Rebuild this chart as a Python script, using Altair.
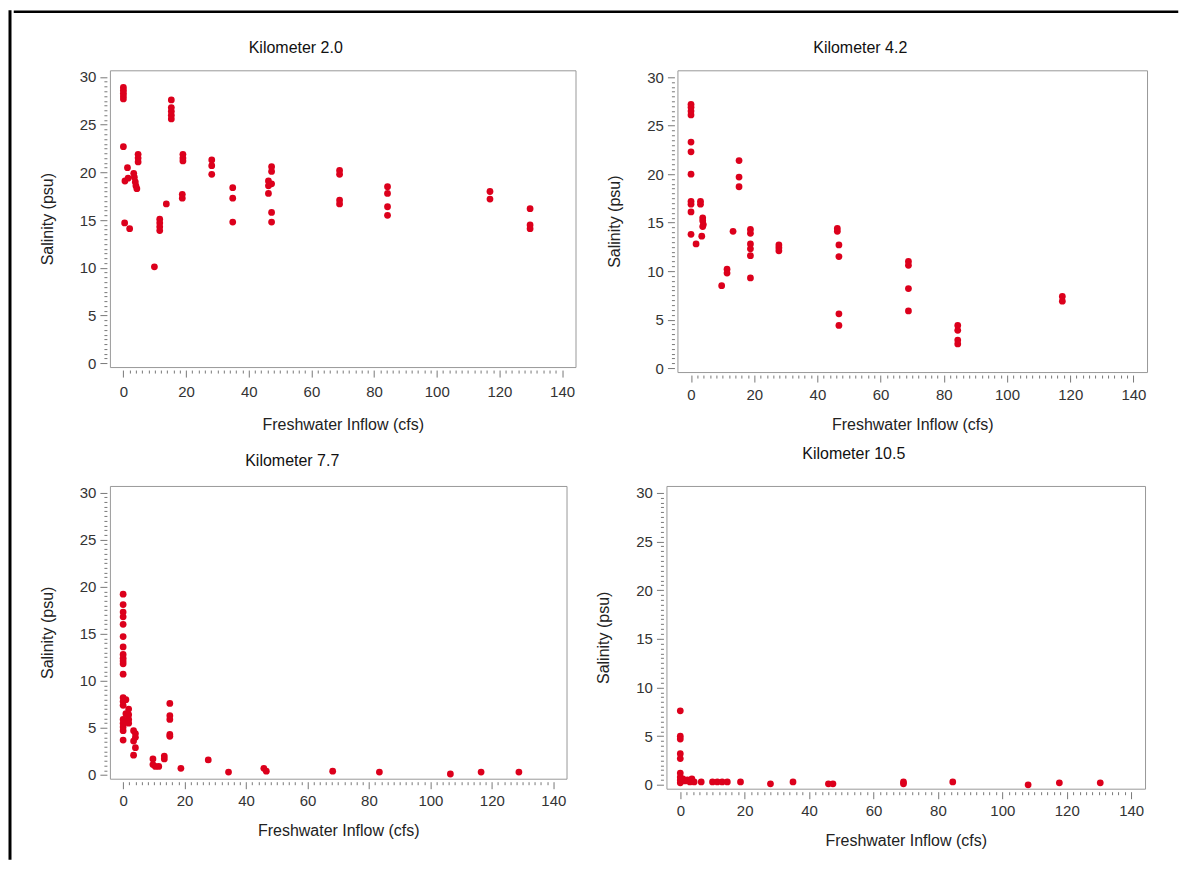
import altair as alt
import pandas as pd

PANELS = ["Kilometer 2.0", "Kilometer 4.2", "Kilometer 7.7", "Kilometer 10.5"]

km20_flow = [0, 0, 0, 0, 0, 0, 0.4, 0.5, 1.3, 1.5, 2.0, 3.3, 3.5, 3.8, 4.0, 4.3,
             4.7, 4.7, 4.7, 9.9, 11.6, 11.6, 11.6, 11.6, 13.7, 15.3, 15.3, 15.3,
             15.3, 15.3, 19.0, 19.0, 19.0, 18.8, 18.8, 28.2, 28.2, 28.2, 34.9,
             34.9, 34.9, 46.3, 46.3, 46.3, 47.3, 47.3, 47.3, 47.3, 47.3, 69, 69,
             69, 69, 84.3, 84.3, 84.3, 84.3, 117, 117, 129.8, 129.8, 129.8]
km20_sal = [28.9, 28.6, 28.3, 28.0, 27.7, 22.7, 14.7, 19.1, 20.5, 19.4, 14.1, 19.9,
            19.5, 19.0, 18.6, 18.3, 21.9, 21.5, 21.1, 10.1, 15.1, 14.7, 14.3, 13.9,
            16.7, 27.6, 26.8, 26.4, 26.0, 25.6, 21.9, 21.5, 21.2, 17.7, 17.3, 21.3,
            20.7, 19.8, 18.4, 17.3, 14.8, 19.1, 18.6, 17.8, 20.6, 20.1, 18.8, 15.8,
            14.8, 20.2, 19.8, 17.1, 16.7, 18.5, 17.8, 16.4, 15.5, 18.0, 17.2, 16.2,
            14.5, 14.1]

km42_flow = [0, 0, 0, 0, 0, 0, 0, 0, 0, 0, 0, 1.6, 3.0, 3.0, 3.4, 3.7, 3.7, 3.9,
             3.7, 9.7, 11.4, 11.4, 13.3, 15.2, 15.2, 15.2, 18.8, 18.8, 18.8, 18.8,
             18.8, 18.8, 27.8, 27.8, 27.8, 46.3, 46.3, 46.8, 46.8, 46.8, 46.8, 68.8,
             68.8, 68.8, 68.8, 84.4, 84.4, 84.4, 84.4, 117.5, 117.5]
km42_sal = [27.2, 26.9, 26.5, 26.1, 23.3, 22.3, 20.0, 17.2, 16.9, 16.1, 13.8, 12.8,
            17.2, 16.9, 13.6, 15.5, 15.2, 14.8, 14.6, 8.5, 10.2, 9.8, 14.1, 21.4,
            19.7, 18.7, 14.3, 13.9, 12.8, 12.3, 11.6, 9.3, 12.7, 12.4, 12.1, 14.4,
            14.1, 12.7, 11.5, 5.6, 4.4, 11.0, 10.6, 8.2, 5.9, 4.4, 3.9, 2.9, 2.5,
            7.4, 6.9]

km77_flow = [0, 0, 0, 0, 0, 0, 0, 0, 0, 0, 0, 0, 0, 0, 0, 0, 0, 0, 0, 0,
             0.9, 0.9, 1.8, 1.8, 1.8, 1.8, 3.4, 3.4, 3.4, 4.0, 4.0, 4.0, 9.7, 9.7,
             10.5, 11.6, 13.4, 13.4, 15.2, 15.2, 15.2, 15.2, 15.2, 18.8, 27.7, 34.3,
             45.8, 46.6, 68.2, 83.4, 106.5, 116.5, 128.8]
km77_sal = [19.2, 18.1, 17.3, 16.8, 16.0, 14.7, 13.6, 12.8, 12.4, 12.1, 11.8, 10.7,
            8.2, 7.8, 7.4, 5.9, 5.5, 5.1, 4.7, 3.7,
            8.0, 6.5, 7.0, 6.4, 5.9, 5.5, 4.7, 3.6, 2.1, 4.4, 4.0, 2.9, 1.7, 1.1,
            0.9, 0.9, 2.0, 1.7, 7.6, 6.3, 5.9, 4.3, 4.1, 0.7, 1.6, 0.3,
            0.7, 0.4, 0.4, 0.3, 0.1, 0.3, 0.3]

km105_flow = [0, 0, 0, 0, 0, 0, 0, 0, 0, 0.8, 1.5, 2.2, 3.0, 3.6, 4.3, 6.5, 10.0,
              11.5, 13.0, 14.6, 18.7, 28.0, 35.0, 46.0, 47.4, 69.3, 69.3, 84.6,
              108.0, 117.7, 130.4]
km105_sal = [7.6, 5.0, 4.7, 3.2, 2.7, 1.2, 0.8, 0.5, 0.2, 0.6, 0.4, 0.5, 0.3, 0.6,
             0.3, 0.3, 0.3, 0.3, 0.3, 0.3, 0.3, 0.1, 0.3, 0.1, 0.1, 0.3, 0.1, 0.3,
             0.0, 0.2, 0.2]

x_major = [0, 20, 40, 60, 80, 100, 120, 140]
x_minor = [v for v in range(0, 141, 2) if v % 20]
y_major = [0, 5, 10, 15, 20, 25, 30]
y_minor = [v / 2 for v in range(0, 61) if v % 10]

frames = []
for name, fl, sa in zip(PANELS, [km20_flow, km42_flow, km77_flow, km105_flow],
                        [km20_sal, km42_sal, km77_sal, km105_sal]):
    frames.append(pd.DataFrame({"km": name, "flow": fl, "sal": sa}))
df = pd.concat(frames, ignore_index=True)
one_row = pd.DataFrame({"k": [0]})

RED = "#DC001C"
FONT = "Liberation Sans"


def panel(name, w, h, dx, offset, xlabpad=5, xtitlepad=14):
    base = alt.Chart(df).transform_filter(alt.datum.km == name)
    xs = alt.Scale(domain=[-4.3, 144.3], nice=False, zero=False)
    ys = alt.Scale(domain=[-0.4, 30.7], nice=False, zero=False)
    pts = base.mark_circle(size=46, color=RED, opacity=1).encode(
        x=alt.X("flow:Q", scale=xs,
                axis=alt.Axis(orient="bottom", values=x_major, tickSize=7, offset=3,
                              domain=False, grid=False, labelPadding=xlabpad,
                              title="Freshwater Inflow (cfs)", titlePadding=xtitlepad)),
        y=alt.Y("sal:Q", scale=ys,
                axis=alt.Axis(orient="left", values=y_major, tickSize=7, offset=3,
                              domain=False, grid=False, labelPadding=4,
                              title="Salinity (psu)", titlePadding=24)),
    )
    minor = base.mark_circle(opacity=0).encode(
        x=alt.X("flow:Q", scale=xs,
                axis=alt.Axis(orient="bottom", values=x_minor, tickSize=3, offset=3,
                              domain=False, grid=False, labels=False, title="")),
        y=alt.Y("sal:Q", scale=ys,
                axis=alt.Axis(orient="left", values=y_minor, tickSize=3, offset=3,
                              domain=False, grid=False, labels=False, title="")),
    )
    return alt.layer(pts, minor).resolve_axis(
        x="independent", y="independent").properties(
        width=w, height=h,
        title=alt.TitleParams(name, fontSize=16, fontWeight="normal", font=FONT,
                              color="#111", anchor="middle", frame="group",
                              dx=dx, offset=offset),
    )


p1 = panel("Kilometer 2.0", 466, 297, -47, 14, xlabpad=7, xtitlepad=17)
p2 = panel("Kilometer 4.2", 470, 302, -52, 14)
p3 = panel("Kilometer 7.7", 457, 293, -46, 17)
p4 = panel("Kilometer 10.5", 479, 303, -52, 24)

# black picture-frame lines along the top and left edges of the figure
frame_top = alt.Chart(one_row).mark_rule(
    color="black", strokeWidth=2.5, strokeCap="square"
).encode(
    x=alt.value(-95), x2=alt.value(1068), y=alt.value(1.5)
).properties(width=1, height=16, view=alt.ViewBackground(stroke="transparent"))

frame_left = alt.Chart(one_row).mark_rule(color="black", strokeWidth=3).encode(
    x=alt.value(0), y=alt.value(0), y2=alt.value(850)
).properties(width=1, height=1, view=alt.ViewBackground(stroke="transparent"))

body = alt.vconcat(
    frame_top,
    alt.hconcat(p1, p2, spacing=29),
    alt.hconcat(p3, p4, spacing=27),
    spacing=12,
)

chart = alt.hconcat(frame_left, body, spacing=0).properties(
    padding={"left": 0, "top": 0, "right": 0, "bottom": 0},
    background="white",
).configure_view(
    stroke="#999", strokeWidth=1
).configure_axis(
    labelFont=FONT, labelFontSize=15, labelColor="#333",
    titleFont=FONT, titleFontSize=16, titleFontWeight="normal", titleColor="#222",
    tickColor="#777",
)

chart.save("out.html", embed_options={"renderer": "svg", "actions": False})
